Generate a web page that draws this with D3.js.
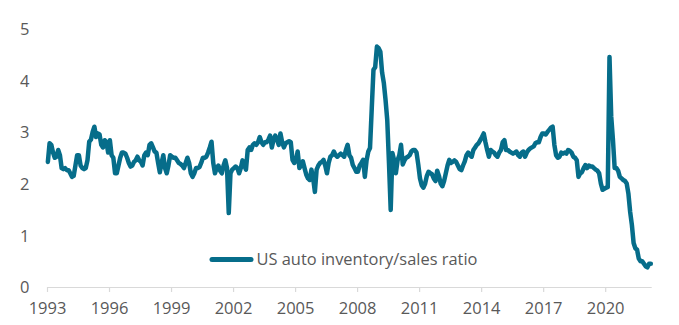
<!DOCTYPE html>
<html>
<head>
<meta charset="utf-8">
<script src="https://cdn.jsdelivr.net/npm/d3@7"></script>
<style>
  html, body { margin: 0; padding: 0; background: #fff; }
  svg { display: block; font-family: "Open Sans", "Liberation Sans", sans-serif; }
</style>
</head>
<body>
<svg id="chart" width="679" height="325"></svg>
<script>
// ---- data (monthly, Jan 1993 .. Mar 2022) ----
const startYear = 1993;
const seriesName = "US auto inventory/sales ratio";
const ratio1993_1997 = [
  2.42, 2.78, 2.75, 2.60, 2.50, 2.52, 2.65, 2.55, 2.30, 2.28, 2.30, 2.26,
  2.26, 2.20, 2.13, 2.15, 2.35, 2.55, 2.55, 2.35, 2.30, 2.28, 2.30, 2.45,
  2.81, 2.85, 3.00, 3.10, 2.90, 2.97, 2.95, 2.75, 2.70, 2.84, 2.80, 2.60,
  2.84, 2.55, 2.50, 2.20, 2.20, 2.35, 2.50, 2.60, 2.60, 2.58, 2.50, 2.40,
  2.33, 2.35, 2.42, 2.45, 2.52, 2.45, 2.42, 2.35, 2.55, 2.60, 2.55, 2.75
];
const ratio1998_2002 = [
  2.78, 2.70, 2.62, 2.60, 2.40, 2.22, 2.40, 2.55, 2.30, 2.20, 2.35, 2.55,
  2.52, 2.50, 2.50, 2.45, 2.40, 2.38, 2.35, 2.30, 2.40, 2.50, 2.40, 2.20,
  2.13, 2.20, 2.30, 2.30, 2.32, 2.40, 2.50, 2.50, 2.52, 2.60, 2.70, 2.81,
  2.40, 2.20, 2.30, 2.35, 2.25, 2.20, 2.35, 2.45, 2.30, 1.43, 2.20, 2.27,
  2.30, 2.33, 2.30, 2.20, 2.30, 2.45, 2.35, 2.27, 2.65, 2.70, 2.65, 2.75
];
const ratio2003_2007 = [
  2.78, 2.75, 2.80, 2.90, 2.80, 2.75, 2.80, 2.80, 2.85, 2.93, 2.70, 2.85,
  2.93, 2.85, 2.75, 2.97, 2.80, 2.70, 2.78, 2.80, 2.82, 2.80, 2.46, 2.40,
  2.45, 2.62, 2.30, 2.35, 2.43, 2.30, 2.17, 2.10, 2.07, 2.27, 2.10, 1.84,
  2.27, 2.35, 2.40, 2.42, 2.46, 2.35, 2.20, 2.40, 2.52, 2.55, 2.62, 2.55,
  2.52, 2.55, 2.58, 2.55, 2.52, 2.65, 2.75, 2.55, 2.50, 2.36, 2.30, 2.23
];
const ratio2008_2012 = [
  2.23, 2.35, 2.40, 2.46, 2.13, 2.45, 2.62, 2.69, 3.45, 4.20, 4.25, 4.65,
  4.62, 4.55, 4.15, 3.95, 3.62, 3.23, 2.40, 1.49, 2.59, 2.45, 2.20, 2.45,
  2.55, 2.75, 2.37, 2.45, 2.50, 2.52, 2.55, 2.62, 2.65, 2.65, 2.60, 2.37,
  2.10, 1.97, 1.92, 2.00, 2.15, 2.23, 2.20, 2.18, 2.10, 2.05, 2.25, 2.15,
  2.00, 1.95, 2.05, 2.20, 2.35, 2.46, 2.40, 2.42, 2.45, 2.42, 2.35, 2.28
];
const ratio2013_2017 = [
  2.26, 2.35, 2.43, 2.55, 2.60, 2.55, 2.52, 2.65, 2.70, 2.75, 2.78, 2.84,
  2.90, 2.97, 2.80, 2.65, 2.52, 2.65, 2.62, 2.60, 2.55, 2.52, 2.60, 2.65,
  2.80, 2.84, 2.65, 2.65, 2.62, 2.60, 2.58, 2.60, 2.62, 2.55, 2.52, 2.60,
  2.62, 2.52, 2.60, 2.65, 2.68, 2.70, 2.72, 2.78, 2.80, 2.80, 2.90, 2.97,
  2.97, 2.95, 3.00, 3.04, 3.08, 3.10, 2.75, 2.55, 2.50, 2.52, 2.60, 2.58
];
const ratio2018_2022 = [
  2.60, 2.58, 2.65, 2.63, 2.60, 2.52, 2.50, 2.45, 2.13, 2.20, 2.22, 2.30,
  2.36, 2.30, 2.35, 2.33, 2.33, 2.30, 2.27, 2.25, 2.20, 2.00, 1.88, 1.90,
  1.92, 1.93, 4.45, 3.30, 2.85, 2.30, 2.30, 2.25, 2.13, 2.10, 2.07, 2.05,
  2.00, 1.80, 1.45, 1.20, 0.85, 0.75, 0.72, 0.55, 0.50, 0.50, 0.45, 0.40,
  0.38, 0.45, 0.45
];
const values = [].concat(ratio1993_1997, ratio1998_2002, ratio2003_2007,
                         ratio2008_2012, ratio2013_2017, ratio2018_2022);
const yTicks = [0, 1, 2, 3, 4, 5];
const xTickLabels = ["1993", "1996", "1999", "2002", "2005", "2008", "2011", "2014", "2017", "2020"];

// ---- chart ----
const svg = d3.select("#chart");
const nMonths = values.length;
const data = values.map((v, i) => ({ i, v }));

const x = d3.scaleLinear().domain([0, nMonths]).range([47, 651.7]);
const y = d3.scaleLinear().domain([0, 5]).range([287, 28.5]);

const textColor = "#595959";
const lineColor = "#066d8a";
const axisColor = "#d9d9d9";
const fontSize = 16.5;

// y tick labels (no axis line, no gridlines)
const yAxis = d3.axisLeft(y).tickValues(yTicks).tickSize(0).tickPadding(0).tickFormat(d3.format("d"));
const gy = svg.append("g").attr("transform", "translate(29.5,0)").call(yAxis);
gy.select(".domain").remove();
gy.selectAll("text").attr("fill", textColor).attr("font-size", fontSize)
  .attr("font-family", "'Open Sans', sans-serif").attr("dy", "0.36em");

// x axis: ticks every 36 months at category boundaries
const tickPos = xTickLabels.map((d, k) => k * 36);
const xAxis = d3.axisBottom(x).tickValues(tickPos).tickSize(5).tickPadding(10)
  .tickFormat((d, k) => xTickLabels[k]);
const gx = svg.append("g").attr("transform", "translate(0,287)").call(xAxis);
gx.select(".domain").attr("stroke", axisColor).attr("stroke-width", 1.2)
  .attr("d", `M${x(0)},0.5H${x(nMonths)}`);
gx.selectAll(".tick line").attr("stroke", axisColor).attr("stroke-width", 1.2);
gx.selectAll("text").attr("fill", textColor).attr("font-size", fontSize)
  .attr("font-family", "'Open Sans', sans-serif");

// line
const line = d3.line()
  .x(d => x(d.i + 0.5))
  .y(d => y(d.v))
  .curve(d3.curveLinear);

svg.append("path")
  .datum(data)
  .attr("fill", "none")
  .attr("stroke", lineColor)
  .attr("stroke-width", 4.5)
  .attr("stroke-linejoin", "round")
  .attr("stroke-linecap", "round")
  .attr("d", line);

// legend
const lg = svg.append("g").attr("transform", "translate(210,259.5)");
lg.append("line").attr("x1", 2).attr("x2", 41).attr("y1", 0).attr("y2", 0)
  .attr("stroke", lineColor).attr("stroke-width", 5).attr("stroke-linecap", "round");
lg.append("text").attr("x", 46.5).attr("y", 0).attr("dy", "0.36em")
  .attr("fill", textColor).attr("font-size", fontSize)
  .attr("font-family", "'Open Sans', sans-serif")
  .attr("textLength", 221).attr("lengthAdjust", "spacingAndGlyphs")
  .text(seriesName);
</script>
</body>
</html>
